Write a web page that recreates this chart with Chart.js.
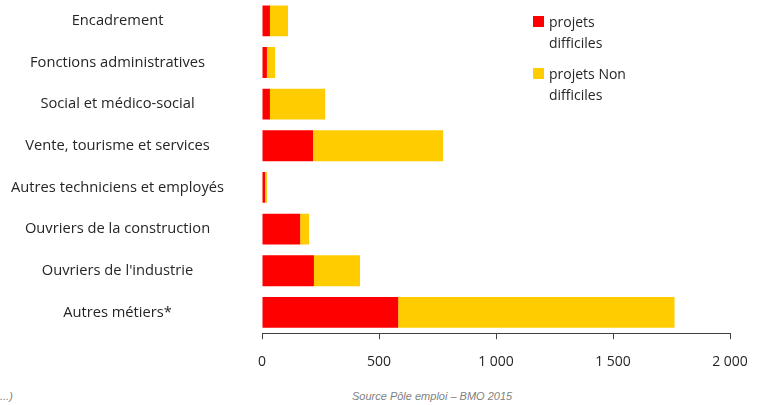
<!DOCTYPE html>
<html>
<head>
<meta charset="utf-8">
<script src="https://cdn.jsdelivr.net/npm/chart.js@4"></script>
<style>
  html, body { margin: 0; padding: 0; background: #fff; }
  #wrap { position: relative; width: 765px; height: 405px; overflow: hidden; }
  #box { position: absolute; left: 0; top: 0; width: 765px; height: 384px; }
  .leg { position: absolute; font-family: "Open Sans", sans-serif; font-size: 14px; color: #262626; line-height: 21px; }
  .sw { position: absolute; width: 11px; height: 11px; }
  .note { position: absolute; font-family: "Liberation Sans", Arial, sans-serif; font-style: italic; font-size: 11px; color: #7f7f7f; }
</style>
</head>
<body>
<div id="wrap">
  <div id="box"><canvas id="c"></canvas></div>
  <div class="sw" style="left:533px;top:16px;background:#FF0000"></div>
  <div class="leg" style="left:549px;top:11px">projets<br>difficiles</div>
  <div class="sw" style="left:533px;top:68px;background:#FFCC00"></div>
  <div class="leg" style="left:549px;top:63px">projets Non<br>difficiles</div>
  <div class="note" style="left:0px;top:390px">...)</div>
  <div class="note" style="left:352px;top:390px">Source Pôle emploi – BMO 2015</div>
</div>
<script>
const categories = [
  "Encadrement",
  "Fonctions administratives",
  "Social et médico-social",
  "Vente, tourisme et services",
  "Autres techniciens et employés",
  "Ouvriers de la construction",
  "Ouvriers de l'industrie",
  "Autres métiers*"
];
const projetsDifficiles = [34, 21, 34, 218, 13, 163, 222, 582];
const projetsNonDifficiles = [77, 35, 236, 556, 8, 38, 197, 1181];
const xTicks = [0, 500, 1000, 1500, 2000];

const fmt = v => String(v).replace(/\B(?=(\d{3})+(?!\d))/g, " ");

new Chart(document.getElementById("c"), {
  type: "bar",
  data: {
    labels: categories,
    datasets: [
      { label: "projets difficiles", data: projetsDifficiles, backgroundColor: "#FF0000", barPercentage: 0.74, categoryPercentage: 1 },
      { label: "projets Non difficiles", data: projetsNonDifficiles, backgroundColor: "#FFCC00", barPercentage: 0.74, categoryPercentage: 1 }
    ]
  },
  options: {
    indexAxis: "y",
    responsive: true,
    maintainAspectRatio: false,
    animation: false,
    layout: { padding: { top: 0, right: 35, bottom: 0, left: 0 } },
    plugins: { legend: { display: false }, tooltip: { enabled: false } },
    scales: {
      x: {
        stacked: true,
        min: 0, max: 2000,
        afterBuildTicks: s => { s.ticks = xTicks.map(v => ({ value: v })); },
        grid: { display: true, drawOnChartArea: false, drawTicks: true, tickLength: 6, color: "#404040" },
        border: { display: true, color: "#404040", width: 1 },
        ticks: { color: "#262626", font: { family: "Open Sans", size: 14 }, padding: 14, maxRotation: 0, callback: v => fmt(v) }
      },
      y: {
        stacked: true,
        grid: { display: false },
        border: { display: false },
        ticks: { color: "#262626", font: { family: "Open Sans", size: 14.7 }, crossAlign: "center", padding: 30 },
        afterFit: s => { s.width = 262; s.paddingTop = 0; s.paddingBottom = 0; }
      }
    }
  }
});
</script>
</body>
</html>
